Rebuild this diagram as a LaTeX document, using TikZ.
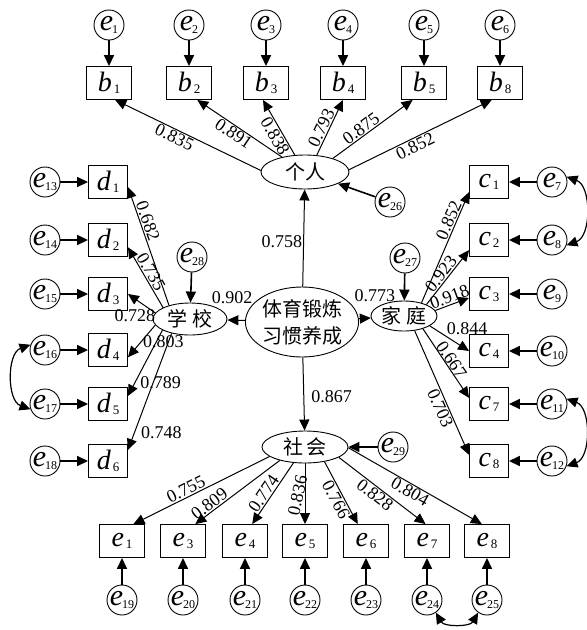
\documentclass[tikz,border=0pt]{standalone}
\usepackage{fontspec}
\setmainfont{Liberation Serif}
\newfontfamily\tms{Liberation Serif}
\newfontfamily\cjk{Noto Sans CJK SC}
\usetikzlibrary{arrows.meta,shapes.geometric}

\newcommand{\bx}[2]{{\tms\fontsize{28}{28}\selectfont\itshape #1}\hspace{2pt}\raisebox{-2pt}{\tms\fontsize{13}{13}\selectfont #2}}
\newcommand{\er}[1]{{\tms\fontsize{30}{30}\selectfont\itshape e}\kern-1pt\raisebox{-3pt}{\tms\fontsize{12}{12}\selectfont #1}}

\tikzset{
  obs/.style={draw,line width=0.9pt,minimum width=45pt,minimum height=33pt,inner sep=0pt},
  obsn/.style={obs,minimum width=39pt},
  err/.style={draw,circle,line width=0.9pt,minimum size=30pt,inner sep=0pt},
  lat/.style={draw,ellipse,line width=0.9pt,inner sep=0pt,font=\cjk\fontsize{20}{27}\selectfont},
  load/.style={-{Triangle[length=11pt,width=10pt]},line width=1pt},
  earr/.style={-{Triangle[length=11pt,width=10pt]},line width=1.6pt},
  cov/.style={{Triangle[length=11pt,width=10pt]}-{Triangle[length=11pt,width=10pt]},line width=1.2pt},
  coef/.style={font=\tms\fontsize{18}{18}\selectfont,inner sep=1pt}
}

\begin{document}
\begin{tikzpicture}[x=1pt,y=1pt]
    \useasboundingbox (0,0) rectangle (587,-630);
    % --- latent variables
    \node[lat,minimum width=101pt,minimum height=70pt,align=center] (zx) at (302,-322) {体育锻炼\\习惯养成};
    \node[lat,minimum width=88pt,minimum height=34pt] (geren) at (305,-172) {个人};
    \node[lat,minimum width=74pt,minimum height=32pt] (xuexiao) at (190,-319) {学\hspace{5pt}校};
    \node[lat,minimum width=66pt,minimum height=30pt] (jiating) at (404,-316) {家\hspace{5pt}庭};
    \node[lat,minimum width=86pt,minimum height=32pt] (shehui) at (305,-447) {社\hspace{3pt}会};
    \node[err] (err26) at (390,-202) {\er{26}};
    \node[err] (err28) at (192,-257) {\er{28}};
    \node[err] (err27) at (405,-258) {\er{27}};
    \node[err] (err29) at (393,-447) {\er{29}};
    \draw[load] (zx) -- node[coef,left,pos=.46] {0.758} (geren);
    \draw[load] (zx) -- node[coef,above=15pt,pos=.5,xshift=-4pt] {0.902} (xuexiao);
    \draw[load] (zx) -- node[coef,above=15pt,pos=.5,xshift=10pt] {0.773} (jiating);
    \draw[load] (zx) -- node[coef,right=6pt,pos=.53] {0.867} (shehui);
    \draw[earr] (err26) -- (geren);
    \draw[earr] (err28) -- (xuexiao);
    \draw[earr] (err27) -- (jiating);
    \draw[earr] (err29) -- (shehui);

    % --- top row : individual
    \node[err] (err1) at (109,-25) {\er{1}};
    \node[err] (err2) at (189,-25) {\er{2}};
    \node[err] (err3) at (266,-25) {\er{3}};
    \node[err] (err4) at (343,-25) {\er{4}};
    \node[err] (err5) at (424,-25) {\er{5}};
    \node[err] (err6) at (500,-25) {\er{6}};
    \node[obs] (b1) at (109,-83) {\bx{b}{1}};
    \node[obs] (b2) at (189,-83) {\bx{b}{2}};
    \node[obs] (b3) at (266,-83) {\bx{b}{3}};
    \node[obs] (b4) at (343,-83) {\bx{b}{4}};
    \node[obs] (b5) at (424,-83) {\bx{b}{5}};
    \node[obs] (b8) at (500,-83) {\bx{b}{8}};
    \draw[earr] (err1) -- (b1);
    \draw[earr] (err2) -- (b2);
    \draw[earr] (err3) -- (b3);
    \draw[earr] (err4) -- (b4);
    \draw[earr] (err5) -- (b5);
    \draw[earr] (err6) -- (b8);
    \draw[load] (geren.178) -- node[coef,sloped,below,pos=.57] {0.835} (b1.-70);
    \draw[load] (geren.147) -- node[coef,sloped,below,pos=.52] {0.891} (b2.-64);
    \draw[load] (geren.121) -- node[coef,sloped,below,pos=.41] {0.838} (b3.-100);
    \draw[load] (geren.55) -- node[coef,sloped,above,pos=.43] {0.793} (b4.-90);
    \draw[load] (geren.26) -- node[coef,sloped,above,pos=.41] {0.875} (b5.-124);
    \draw[load] (geren.3) -- node[coef,sloped,below,pos=.44] {0.852} (b8.-116);

    % --- left column : school
    \node[obsn] (d1) at (108,-182) {\bx{d}{1}};
    \node[obsn] (d2) at (108,-240) {\bx{d}{2}};
    \node[obsn] (d3) at (108,-294) {\bx{d}{3}};
    \node[obsn] (d4) at (108,-350) {\bx{d}{4}};
    \node[obsn] (d5) at (108,-404) {\bx{d}{5}};
    \node[obsn] (d6) at (108,-461) {\bx{d}{6}};
    \node[err] (err13) at (45,-182) {\er{13}};
    \node[err] (err14) at (45,-240) {\er{14}};
    \node[err] (err15) at (45,-294) {\er{15}};
    \node[err] (err16) at (45,-350) {\er{16}};
    \node[err] (err17) at (45,-404) {\er{17}};
    \node[err] (err18) at (45,-461) {\er{18}};
    \draw[earr] (err13) -- (d1);
    \draw[earr] (err14) -- (d2);
    \draw[earr] (err15) -- (d3);
    \draw[earr] (err16) -- (d4);
    \draw[earr] (err17) -- (d5);
    \draw[earr] (err18) -- (d6);
    \draw[cov] (err16.160) to[out=200,in=160] (err17.200);
    \draw[load] (xuexiao.147) -- node[coef,sloped,above,pos=.69] {0.682} (d1.-14);
    \draw[load] (xuexiao.157) -- node[coef,sloped,above,pos=.53] {0.735} (d2.-20);
    \draw[load] (xuexiao.170) -- node[coef,below=9pt,pos=.75] {0.728} (d3.0);
    \draw[load] (xuexiao.190) -- node[coef,anchor=west,pos=.5] {0.803} (d4.-20);
    \draw[load] (xuexiao.202) -- node[coef,right=4pt,pos=.8] {0.789} (d5.22);
    \draw[load] (xuexiao.218) -- node[coef,right=5pt,pos=.85] {0.748} (d6.29);

    % --- right column : family
    \node[obsn] (c1) at (489,-182) {\bx{c}{1}};
    \node[obsn] (c2) at (489,-240) {\bx{c}{2}};
    \node[obsn] (c3) at (489,-294) {\bx{c}{3}};
    \node[obsn] (c4) at (489,-351) {\bx{c}{4}};
    \node[obsn] (c7) at (489,-404) {\bx{c}{7}};
    \node[obsn] (c8) at (489,-461) {\bx{c}{8}};
    \node[err] (err7) at (552,-182) {\er{7}};
    \node[err] (err8) at (552,-240) {\er{8}};
    \node[err] (err9) at (552,-294) {\er{9}};
    \node[err] (err10) at (552,-351) {\er{10}};
    \node[err] (err11) at (552,-404) {\er{11}};
    \node[err] (err12) at (552,-461) {\er{12}};
    \draw[earr] (err7) -- (c1);
    \draw[earr] (err8) -- (c2);
    \draw[earr] (err9) -- (c3);
    \draw[earr] (err10) -- (c4);
    \draw[earr] (err11) -- (c7);
    \draw[earr] (err12) -- (c8);
    \draw[cov] (err7.20) to[out=-20,in=20] (err8.-20);
    \draw[cov] (err11.20) to[out=-20,in=20] (err12.-20);
    \draw[load] (jiating.37) -- node[coef,sloped,above,pos=.72] {0.852} (c1.207);
    \draw[load] (jiating.27) -- node[coef,sloped,above,pos=.48] {0.923} (c2.207);
    \draw[load] (jiating.10) -- node[coef,sloped,above,pos=.5] {0.918} (c3.191);
    \draw[load] (jiating.-21) -- node[coef,anchor=south west,pos=.4] {0.844} (c4.180);
    \draw[load] (jiating.-34) -- node[coef,sloped,above,pos=.5,inner sep=0pt] {0.667} (c7.163);
    \draw[load] (jiating.-54) -- node[coef,sloped,below,pos=.6] {0.703} (c8.163);

    % --- bottom row : society
    \node[obs] (se1) at (122,-541) {\bx{e}{1}};
    \node[obs] (se3) at (183,-541) {\bx{e}{3}};
    \node[obs] (se4) at (245,-541) {\bx{e}{4}};
    \node[obs] (se5) at (305,-541) {\bx{e}{5}};
    \node[obs] (se6) at (366,-541) {\bx{e}{6}};
    \node[obs] (se7) at (427,-541) {\bx{e}{7}};
    \node[obs] (se8) at (487,-541) {\bx{e}{8}};
    \node[err] (err19) at (122,-600) {\er{19}};
    \node[err] (err20) at (183,-600) {\er{20}};
    \node[err] (err21) at (245,-600) {\er{21}};
    \node[err] (err22) at (305,-600) {\er{22}};
    \node[err] (err23) at (366,-600) {\er{23}};
    \node[err] (err24) at (427,-600) {\er{24}};
    \node[err] (err25) at (487,-600) {\er{25}};
    \draw[earr] (err19) -- (se1);
    \draw[earr] (err20) -- (se3);
    \draw[earr] (err21) -- (se4);
    \draw[earr] (err22) -- (se5);
    \draw[earr] (err23) -- (se6);
    \draw[earr] (err24) -- (se7);
    \draw[earr] (err25) -- (se8);
    \draw[cov] (err24.-55) to[out=-60,in=-120] (err25.-125);
    \draw[load] (shehui.195) -- node[coef,sloped,above,pos=.59] {0.755} (se1.56);
    \draw[load] (shehui.208) -- node[coef,sloped,above,pos=.78] {0.809} (se3.54);
    \draw[load] (shehui.234) -- node[coef,sloped,above,pos=.57] {0.774} (se4.67);
    \draw[load] (shehui.270) -- node[coef,rotate=78,anchor=south,pos=.55] {0.836} (se5.90);
    \draw[load] (shehui.-37) -- node[coef,sloped,below,pos=.55] {0.766} (se6.116);
    \draw[load] (shehui.-17) -- node[coef,sloped,below,pos=.47] {0.828} (se7.95);
    \draw[load] (shehui.-1) -- node[coef,sloped,below,pos=.49] {0.804} (se8.107);
\end{tikzpicture}
\end{document}
